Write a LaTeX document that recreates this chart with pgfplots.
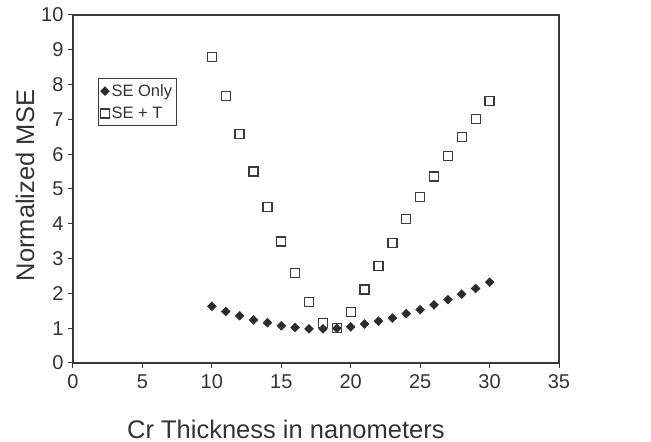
\documentclass[border=0pt]{standalone}
\usepackage{pgfplots}
\pgfplotsset{compat=1.18}
\usepackage{fontspec}
\setmainfont{Liberation Sans}
\definecolor{txt}{HTML}{333333}
\definecolor{frm}{HTML}{3A3A3A}
\definecolor{mk}{HTML}{2B2B2B}
\begin{document}
\begin{tikzpicture}[x=1pt,y=1pt]
\useasboundingbox (-73,-79) rectangle (578,363);
\begin{axis}[
  at={(0,0)}, anchor=south west,
  scale only axis, width=486pt, height=348pt,
  xmin=0, xmax=35, ymin=0, ymax=10,
  xtick={0,5,...,35}, ytick={0,1,...,10},
  tick align=outside, major tick length=5pt,
  xtick pos=bottom, ytick pos=left,
  axis line style={frm, line width=1.8pt},
  tick style={frm, line width=1pt},
  /pgf/number format/assume math mode=true,
  ticklabel style={font=\fontsize{20}{22}\selectfont, text=txt},
  xticklabel style={yshift=-3pt},
  yticklabel style={xshift=-1pt},
  xlabel={Cr Thickness in nanometers},
  ylabel={Normalized MSE},
  label style={font=\fontsize{25.5}{28}\selectfont, text=txt},
  xlabel style={at={(axis description cs:0.438,0)}, anchor=base, yshift=-75pt},
  ylabel style={at={(axis description cs:-0.0988,0.51)}, anchor=center},
  legend style={at={(axis description cs:0.0514,0.819)}, anchor=north west,
    draw=frm, line width=1pt, font=\fontsize{16.5}{18}\selectfont, text=txt,
    inner xsep=2pt, inner ysep=4pt, row sep=5pt},
  legend cell align=left,
  legend image code/.code={\draw[#1] plot coordinates {(0.12cm,0cm)};},
]
\addplot[only marks, mark=square*, mark size=3.2pt, mark options={fill=mk, draw=mk, line width=0.3pt, rotate=45}]
coordinates {
(10,1.63) (11,1.48) (12,1.36) (13,1.24) (14,1.16) (15,1.07) (16,1.02)
(17,0.98) (18,0.98) (19,1.00) (20,1.04) (21,1.12) (22,1.20) (23,1.29)
(24,1.42) (25,1.53) (26,1.67) (27,1.82) (28,1.98) (29,2.14) (30,2.32)
};
\addlegendentry{SE Only}
\addplot[only marks, mark=square, mark size=4.5pt, mark options={draw=frm, fill=white, line width=1.3pt}]
coordinates {
(10,8.80) (11,7.68) (12,6.59) (13,5.50) (14,4.49) (15,3.49) (16,2.58)
(17,1.75) (18,1.15) (19,1.00) (20,1.46) (21,2.11) (22,2.78) (23,3.45)
(24,4.14) (25,4.77) (26,5.36) (27,5.95) (28,6.50) (29,7.02) (30,7.53)
};
\addlegendentry{SE + T}
\end{axis}
\end{tikzpicture}
\end{document}
